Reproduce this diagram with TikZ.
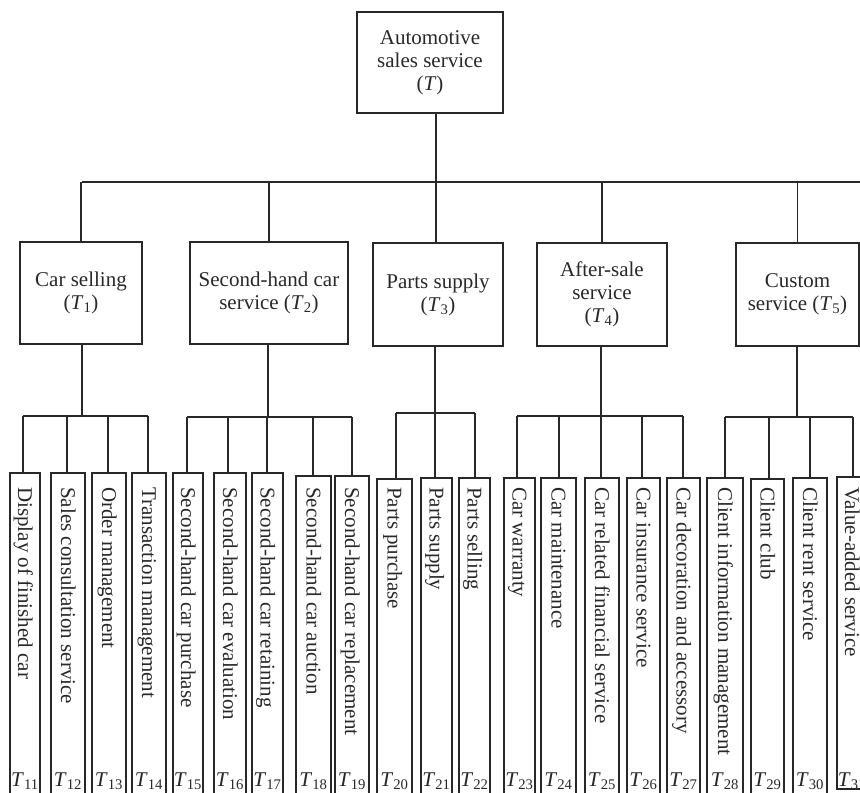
\documentclass[tikz,border=0pt]{standalone}
\usepackage{fontspec}
\setmainfont{Liberation Serif}
\definecolor{ink}{RGB}{40,40,40}
\tikzset{
  box/.style={draw=ink, line width=1.1pt, inner sep=0pt, align=center, text=ink,
    font=\fontsize{21}{23}\selectfont},
  conn/.style={draw=ink, line width=1.1pt},
  leafbox/.style={draw=ink, line width=1.1pt, inner sep=0pt},
  leaftext/.style={rotate=-90, anchor=west, inner sep=0pt, text=ink,
    text height=15pt, text depth=5pt, font=\fontsize{21}{23}\selectfont},
  tlabel/.style={anchor=base, inner sep=0pt, text=ink, font=\fontsize{21}{23}\selectfont},
}
\newcommand\Tsb[1]{\textit{T}\textsubscript{#1}}
\begin{document}
\begin{tikzpicture}[x=1pt,y=-1pt]
\useasboundingbox (0,0) rectangle (860,793);
\clip (0,0) rectangle (860,793);
% root
\node[box, minimum width=146pt, minimum height=101pt] (T) at (430,62.5)
  {Automotive\\sales service\\(\textit{T})};
% level 1
\node[box, minimum width=122pt, minimum height=102pt] (A1) at (81,293) {Car selling\\(\Tsb{1})};
\node[box, minimum width=158pt, minimum height=102pt] (A2) at (269,293) {Second-hand car\\service (\Tsb{2})};
\node[box, minimum width=130pt, minimum height=103pt] (A3) at (438,294.5) {Parts supply\\(\Tsb{3})};
\node[box, minimum width=130pt, minimum height=103pt] (A4) at (602,294.5) {After-sale\\service\\(\Tsb{4})};
\node[box, minimum width=123pt, minimum height=103pt] (A5) at (797.5,294.5) {Custom\\service (\Tsb{5})};
% top bus
\coordinate (b0) at (436,182);
\draw[conn] ([xshift=6pt]T.south) -- (b0);
\draw[conn] (82,182) -- (870,182);
\draw[conn] (b0 -| A1.north) -- (A1.north);
\draw[conn] (b0 -| A2.north) -- (A2.north);
\draw[conn] (436,182) -- (436,243);
\draw[conn] (b0 -| A4.north) -- (A4.north);
\draw[conn] (b0 -| A5.north) -- (A5.north);
% level 2 buses
\draw[conn] (82,344) -- (82,416);  \draw[conn] (23,416) -- (148,416);
\draw[conn] (268,344) -- (268,417); \draw[conn] (187,417) -- (352,417);
\draw[conn] (435,346) -- (435,413); \draw[conn] (396,413) -- (475,413);
\draw[conn] (601,346) -- (601,416); \draw[conn] (517,416) -- (683,416);
\draw[conn] (797,346) -- (797,417); \draw[conn] (725,417) -- (853,417);
% leaves
\foreach \n/\l/\r/\t/\b/\d/\by/\txt in {
  11/10/40/473/797/23/416/Display of finished car,
  12/51/85/473/797/67/416/Sales consultation service,
  13/92/126/473/797/108/416/Order management,
  14/132/166/473/797/148/416/Transaction management,
  15/173/203/473/797/187/417/Second-hand car purchase,
  16/214/246/473/797/228/417/Second-hand car evaluation,
  17/252/283/473/797/267/417/Second-hand car retaining,
  18/296/331/476/797/313/417/Second-hand car auction,
  19/335/369/476/797/352/417/Second-hand car replacement,
  20/377/412/479/797/396/413/Parts purchase,
  21/421/452/478/797/435/413/Parts supply,
  22/459/490/478/797/475/413/Parts selling,
  23/504/535/478/797/517/416/Car warranty,
  24/541/576/478/797/559/416/Car maintenance,
  25/585/619/478/797/601/416/Car related financial service,
  26/627/660/478/797/642/416/Car insurance service,
  27/667/700/478/797/683/416/Car decoration and accessory,
  28/707/743/478/797/725/417/Client information management,
  29/751/784/479/797/769/417/Client club,
  30/793/827/478/797/810/417/Client rent service,
  31/837/867/477/789/853/417/Value-added service}{
  \node[leafbox, minimum width={(\r-\l)*1pt}, minimum height={(\b-\t)*1pt}]
    (L\n) at ({(\l+\r)/2},{(\t+\b)/2}) {};
  \draw[conn] (\d,\by) -- (\d,\t);
  \node[leaftext] (X\n) at ({(\l+\r)/2-2},487) {\txt};
  \node[tlabel] (N\n) at ({(\l+\r)/2},786) {\Tsb{\n}};
}
\end{tikzpicture}
\end{document}
